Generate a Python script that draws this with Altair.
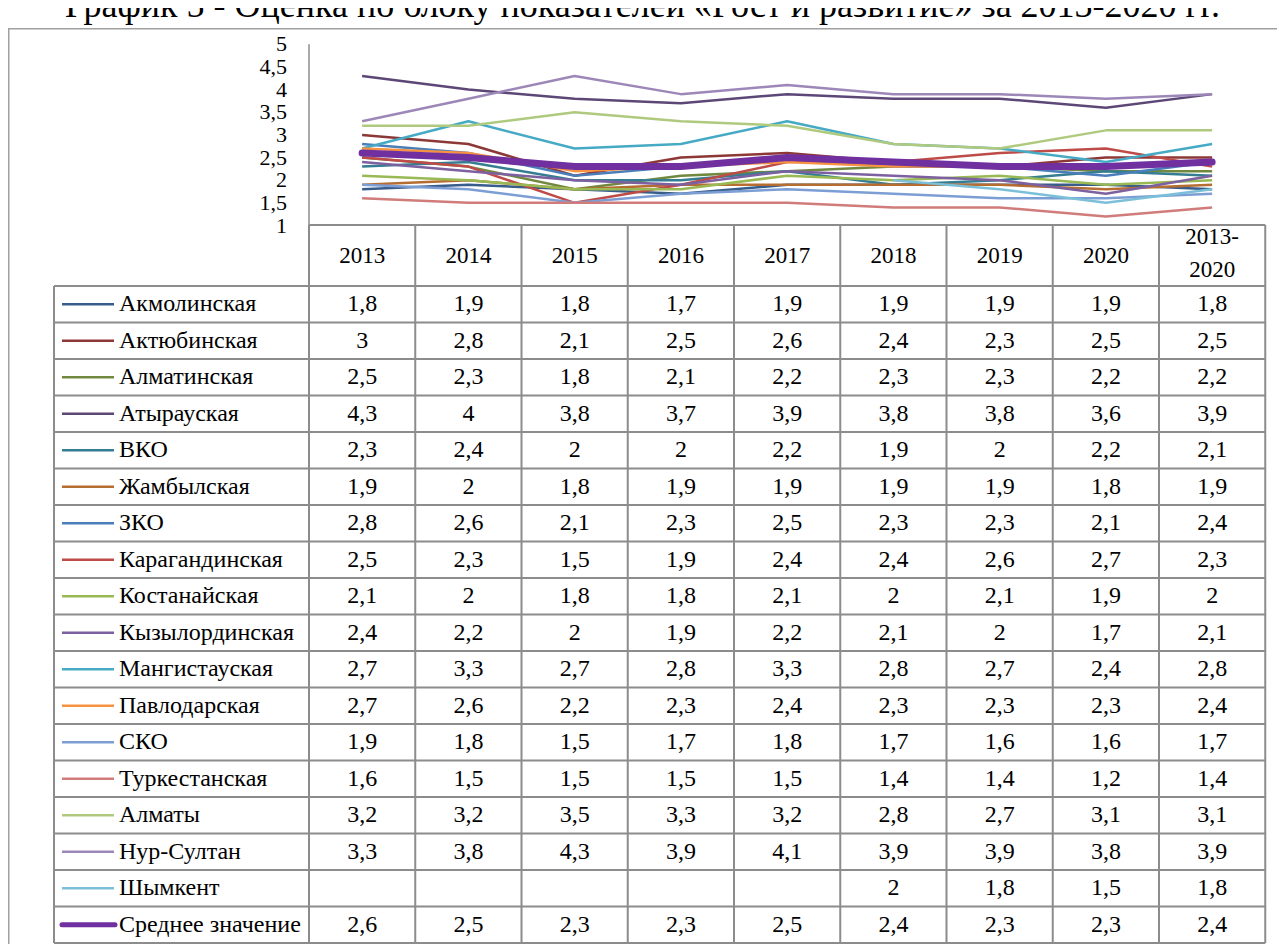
import altair as alt
import pandas as pd

# ---------------- data ----------------
title_text = "График 5 - Оценка по блоку показателей «Рост и развитие» за 2013-2020 гг."
columns = ["2013", "2014", "2015", "2016", "2017", "2018", "2019", "2020", "2013-\n2020"]

regions = ["Акмолинская", "Актюбинская", "Алматинская", "Атырауская", "ВКО",
           "Жамбылская", "ЗКО", "Карагандинская", "Костанайская", "Кызылординская",
           "Мангистауская", "Павлодарская", "СКО", "Туркестанская", "Алматы",
           "Нур-Султан", "Шымкент", "Среднее значение"]

akmola      = [1.8, 1.9, 1.8, 1.7, 1.9, 1.9, 1.9, 1.9, 1.8]
aktobe      = [3, 2.8, 2.1, 2.5, 2.6, 2.4, 2.3, 2.5, 2.5]
almaty_obl  = [2.5, 2.3, 1.8, 2.1, 2.2, 2.3, 2.3, 2.2, 2.2]
atyrau      = [4.3, 4, 3.8, 3.7, 3.9, 3.8, 3.8, 3.6, 3.9]
vko         = [2.3, 2.4, 2, 2, 2.2, 1.9, 2, 2.2, 2.1]
zhambyl     = [1.9, 2, 1.8, 1.9, 1.9, 1.9, 1.9, 1.8, 1.9]
zko         = [2.8, 2.6, 2.1, 2.3, 2.5, 2.3, 2.3, 2.1, 2.4]
karaganda   = [2.5, 2.3, 1.5, 1.9, 2.4, 2.4, 2.6, 2.7, 2.3]
kostanay    = [2.1, 2, 1.8, 1.8, 2.1, 2, 2.1, 1.9, 2]
kyzylorda   = [2.4, 2.2, 2, 1.9, 2.2, 2.1, 2, 1.7, 2.1]
mangystau   = [2.7, 3.3, 2.7, 2.8, 3.3, 2.8, 2.7, 2.4, 2.8]
pavlodar    = [2.7, 2.6, 2.2, 2.3, 2.4, 2.3, 2.3, 2.3, 2.4]
sko         = [1.9, 1.8, 1.5, 1.7, 1.8, 1.7, 1.6, 1.6, 1.7]
turkestan   = [1.6, 1.5, 1.5, 1.5, 1.5, 1.4, 1.4, 1.2, 1.4]
almaty_city = [3.2, 3.2, 3.5, 3.3, 3.2, 2.8, 2.7, 3.1, 3.1]
nur_sultan  = [3.3, 3.8, 4.3, 3.9, 4.1, 3.9, 3.9, 3.8, 3.9]
shymkent    = [None, None, None, None, None, 2, 1.8, 1.5, 1.8]
average     = [2.6, 2.5, 2.3, 2.3, 2.5, 2.4, 2.3, 2.3, 2.4]

series = [akmola, aktobe, almaty_obl, atyrau, vko, zhambyl, zko, karaganda, kostanay,
          kyzylorda, mangystau, pavlodar, sko, turkestan, almaty_city, nur_sultan,
          shymkent, average]

colors = ["#385D8A", "#8C3836", "#71893F", "#5C4776", "#357D91", "#B66D31",
          "#4A7EBB", "#BE4B48", "#98B954", "#7D60A0", "#46AAC5", "#F69240",
          "#7C9ED4", "#D07C7A", "#AFCA7E", "#9D87B8", "#7BC0D8", "#7030A0"]

y_ticks = [1, 1.5, 2, 2.5, 3, 3.5, 4, 4.5, 5]

# ---------------- helpers ----------------
def fmt(v):
    if v is None:
        return ""
    if float(v).is_integer():
        return str(int(v))
    return str(v).replace(".", ",")

FONT = "Liberation Serif"
GRID = "#8C8C8C"
HEADER = 1.67          # header row height in table-row units
LABEL_LEFT = -2.9      # left edge of the label column in column units

line_rows, cell_rows, label_rows = [], [], []
for k, (name, vals) in enumerate(zip(regions, series)):
    label_rows.append({"region": name, "r": k + 0.5})
    for i, v in enumerate(vals):
        cell_rows.append({"i": i, "r": k + 0.5, "t": fmt(v)})
        if v is not None:
            line_rows.append({"region": name, "i": i, "v": v})

lines_df = pd.DataFrame(line_rows)
cells_df = pd.DataFrame(cell_rows)
labels_df = pd.DataFrame(label_rows)
header_df = pd.DataFrame({"i": list(range(len(columns))), "r": [-HEADER / 2] * len(columns),
                          "t": columns})
single_hdr = header_df[~header_df.t.str.contains("\n")]
multi_hdr = header_df[header_df.t.str.contains("\n")]
ticks_df = pd.DataFrame({"v": y_ticks, "t": [fmt(t) for t in y_ticks]})
axis_df = pd.DataFrame({"x": [-0.5], "y": [max(y_ticks)], "y2": [min(y_ticks)]})

n_rows = len(regions)
n_cols = len(columns)
grid = []
grid.append({"x": -0.5, "x2": n_cols - 0.5, "y": -HEADER, "y2": -HEADER})
for k in range(n_rows + 1):
    grid.append({"x": LABEL_LEFT, "x2": n_cols - 0.5, "y": k, "y2": k})
grid.append({"x": LABEL_LEFT, "x2": LABEL_LEFT, "y": 0, "y2": n_rows})
for c in range(n_cols + 1):
    grid.append({"x": c - 0.5, "x2": c - 0.5, "y": -HEADER, "y2": n_rows})
grid_df = pd.DataFrame(grid)

# ---------------- scales ----------------
W, H = 1269, 916
X = alt.Scale(domain=[-0.5, n_cols - 0.5], range=[301, 1257.25], nice=False, zero=False)
Y_LINE = alt.Scale(domain=[1, 5], range=[197.5, 16.3], nice=False, zero=False)
Y_ROW = alt.Scale(domain=[0, n_rows], range=[258, 915], nice=False, zero=False)
COLOR = alt.Scale(domain=regions, range=colors)

TXT = dict(font=FONT, color="black")

lines = alt.Chart(lines_df[lines_df.region != "Среднее значение"]).mark_line(
    strokeWidth=2.5, strokeJoin="round").encode(
    x=alt.X("i:Q", scale=X, axis=None),
    y=alt.Y("v:Q", scale=Y_LINE, axis=None),
    color=alt.Color("region:N", scale=COLOR, legend=None),
    detail="region:N",
)
avg_line = alt.Chart(lines_df[lines_df.region == "Среднее значение"]).mark_line(
    strokeWidth=7, strokeJoin="round", strokeCap="round").encode(
    x=alt.X("i:Q", scale=X, axis=None),
    y=alt.Y("v:Q", scale=Y_LINE, axis=None),
    color=alt.Color("region:N", scale=COLOR, legend=None),
)

y_axis_line = alt.Chart(axis_df).mark_rule(color=GRID, strokeWidth=1.5).encode(
    x=alt.X("x:Q", scale=X, axis=None),
    y=alt.Y("y:Q", scale=Y_LINE, axis=None),
    y2="y2:Q",
)
y_labels = alt.Chart(ticks_df).mark_text(align="right", baseline="middle",
                                         fontSize=22, **TXT).encode(
    x=alt.value(279),
    y=alt.Y("v:Q", scale=Y_LINE, axis=None),
    text="t:N",
)

grid_layer = alt.Chart(grid_df).mark_rule(color=GRID, strokeWidth=2).encode(
    x=alt.X("x:Q", scale=X, axis=None),
    x2="x2:Q",
    y=alt.Y("y:Q", scale=Y_ROW, axis=None),
    y2="y2:Q",
)
header_layer = alt.Chart(single_hdr).mark_text(fontSize=23, baseline="middle", **TXT).encode(
    x=alt.X("i:Q", scale=X, axis=None),
    y=alt.Y("r:Q", scale=Y_ROW, axis=None),
    text="t:N",
)
header_multi = alt.Chart(multi_hdr).mark_text(fontSize=23, baseline="middle",
                                              lineBreak="\n", lineHeight=33, dy=-19,
                                              **TXT).encode(
    x=alt.X("i:Q", scale=X, axis=None),
    y=alt.Y("r:Q", scale=Y_ROW, axis=None),
    text="t:N",
)
cells_layer = alt.Chart(cells_df).mark_text(fontSize=24, baseline="middle", **TXT).encode(
    x=alt.X("i:Q", scale=X, axis=None),
    y=alt.Y("r:Q", scale=Y_ROW, axis=None),
    text="t:N",
)
names_layer = alt.Chart(labels_df).mark_text(fontSize=24, align="left",
                                             baseline="middle", **TXT).encode(
    x=alt.value(111),
    y=alt.Y("r:Q", scale=Y_ROW, axis=None),
    text="region:N",
)
swatches = alt.Chart(labels_df[labels_df.region != "Среднее значение"]).mark_rule(
    strokeWidth=2.5).encode(
    x=alt.value(54), x2=alt.value(106),
    y=alt.Y("r:Q", scale=Y_ROW, axis=None),
    color=alt.Color("region:N", scale=COLOR, legend=None),
)
avg_swatch = alt.Chart(labels_df[labels_df.region == "Среднее значение"]).mark_rule(
    strokeWidth=5, strokeCap="round").encode(
    x=alt.value(54), x2=alt.value(107),
    y=alt.Y("r:Q", scale=Y_ROW, axis=None),
    color=alt.Color("region:N", scale=COLOR, legend=None),
)

frame_left = alt.Chart(axis_df).mark_rule(color="#A0A0A0", strokeWidth=1.5).encode(
    x=alt.value(0.75), y=alt.value(0), y2=alt.value(H))
frame_top = alt.Chart(axis_df).mark_rule(color="#A0A0A0", strokeWidth=1.5).encode(
    x=alt.value(0), x2=alt.value(W), y=alt.value(0.75))

chart = alt.layer(
    frame_left, frame_top, grid_layer, y_axis_line, y_labels,
    lines, avg_line, header_layer, header_multi, cells_layer, swatches, avg_swatch,
    names_layer,
).resolve_scale(y="independent").properties(
    width=W, height=H,
    autosize=alt.AutoSizeParams(type="none"),
    padding={"left": 0, "top": 20, "right": 0, "bottom": 0},
    title=alt.TitleParams(title_text, font=FONT, fontSize=36, fontWeight="normal",
                          color="black", anchor="middle", frame="group", offset=2),
).configure_view(stroke=None)

chart.save("out.html", embed_options={"renderer": "svg", "actions": False})
